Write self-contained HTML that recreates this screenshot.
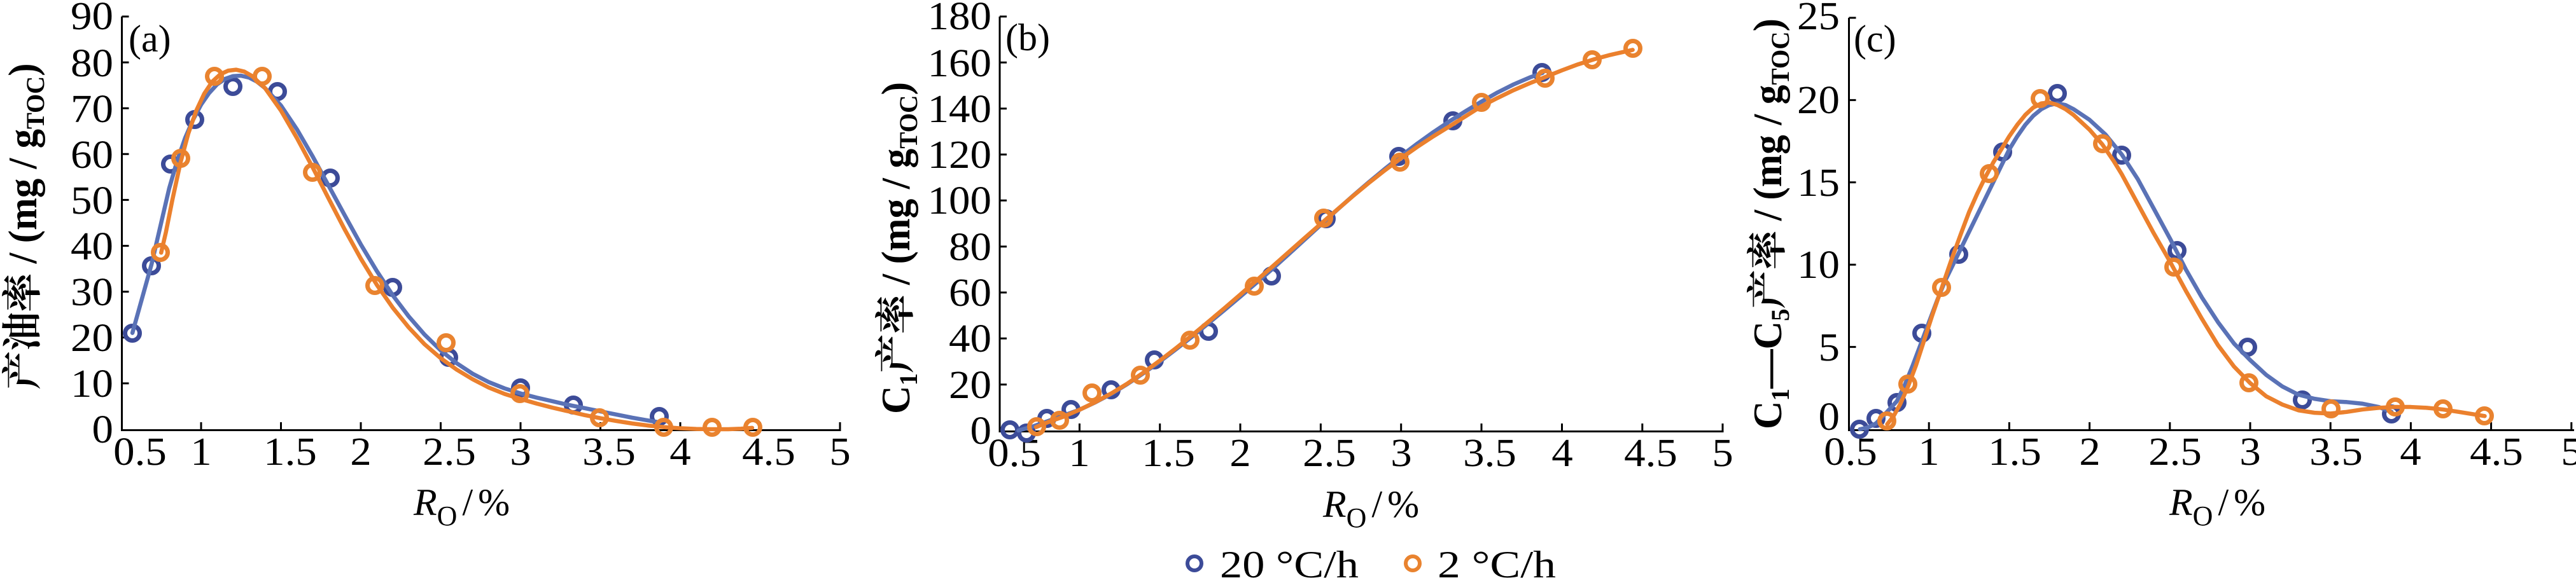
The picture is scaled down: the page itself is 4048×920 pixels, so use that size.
<!DOCTYPE html>
<html><head><meta charset="utf-8"><style>
html,body{margin:0;padding:0;background:#fff;width:4048px;height:920px;overflow:hidden}
svg{display:block}
.t{font-family:"Liberation Serif","Noto Serif CJK SC",serif;fill:#000}
.cjk{font-family:"Noto Serif CJK SC","Liberation Serif",serif}
</style></head><body>
<svg width="4048" height="920" viewBox="0 0 4048 920" xmlns="http://www.w3.org/2000/svg">
<rect width="4048" height="920" fill="#fff"/>

<!-- ================= PANEL A ================= -->
<g stroke="#000" stroke-width="3" fill="none">
<path d="M191.5 26 V676.5 H1321.5"/>
<path d="M191.5 26 h11 M191.5 98.1 h11 M191.5 170.2 h11 M191.5 242.3 h11 M191.5 314.4 h11 M191.5 386.6 h11 M191.5 458.7 h11 M191.5 530.8 h11 M191.5 602.9 h11"/>
<path d="M316 675 v-11 M441.5 675 v-11 M567 675 v-11 M692.5 675 v-11 M818 675 v-11 M943.5 675 v-11 M1069 675 v-11 M1194.5 675 v-11 M1320 675 v-11"/>
</g>
<g class="t" font-size="62" text-anchor="end">
<text transform="translate(178,696) scale(1.08,1)">0</text>
<text transform="translate(178,624) scale(1.08,1)">10</text>
<text transform="translate(178,552) scale(1.08,1)">20</text>
<text transform="translate(178,480) scale(1.08,1)">30</text>
<text transform="translate(178,408) scale(1.08,1)">40</text>
<text transform="translate(178,336) scale(1.08,1)">50</text>
<text transform="translate(178,264) scale(1.08,1)">60</text>
<text transform="translate(178,192) scale(1.08,1)">70</text>
<text transform="translate(178,120) scale(1.08,1)">80</text>
<text transform="translate(178,46) scale(1.08,1)">90</text>
</g>
<g class="t" font-size="62" text-anchor="middle">
<text transform="translate(220,731) scale(1.08,1)">0.5</text>
<text transform="translate(316,731) scale(1.08,1)">1</text>
<text transform="translate(456,731) scale(1.08,1)">1.5</text>
<text transform="translate(567,731) scale(1.08,1)">2</text>
<text transform="translate(706,731) scale(1.08,1)">2.5</text>
<text transform="translate(818,731) scale(1.08,1)">3</text>
<text transform="translate(957,731) scale(1.08,1)">3.5</text>
<text transform="translate(1069,731) scale(1.08,1)">4</text>
<text transform="translate(1208,731) scale(1.08,1)">4.5</text>
<text transform="translate(1320,731) scale(1.08,1)">5</text>
</g>
<text class="t" x="202" y="81" font-size="60">(a)</text>
<text class="t" x="650" y="810" font-size="60"><tspan font-style="italic">R</tspan><tspan font-size="44" dy="16">O</tspan><tspan dy="-16" dx="8">/</tspan><tspan dx="8">%</tspan></text>
<text class="t" transform="translate(57,356) rotate(-90)" text-anchor="middle" font-size="63" font-weight="bold" textLength="513" lengthAdjust="spacingAndGlyphs"><tspan class="cjk">产油率</tspan> / (mg / g<tspan font-size="40" dy="12">TOC</tspan><tspan dy="-12">)</tspan></text>

<!-- markers a blue -->
<g fill="none" stroke="#3c4b98" stroke-width="7">
<circle cx="208" cy="524" r="11.5"/><circle cx="238" cy="418" r="11.5"/><circle cx="268" cy="258" r="11.5"/><circle cx="306" cy="188" r="11.5"/><circle cx="366" cy="136" r="11.5"/><circle cx="436" cy="144" r="11.5"/><circle cx="519" cy="280" r="11.5"/><circle cx="617" cy="452" r="11.5"/><circle cx="705" cy="562" r="11.5"/><circle cx="818" cy="610" r="11.5"/><circle cx="901" cy="637" r="11.5"/><circle cx="1036" cy="655" r="11.5"/>
</g>
<g transform="translate(190.5,675) scale(251,-7.211) translate(-0.5,0)">
<polyline vector-effect="non-scaling-stroke" fill="none" stroke="#5a72b6" stroke-width="6.5" stroke-linejoin="round" stroke-linecap="round" points="0.57,21 0.63,28.5 0.69,36 0.75,45 0.8,52.5 0.85,58.5 0.9,63.5 0.95,67.5 1,70.8 1.05,73.3 1.1,75.2 1.15,76.4 1.2,77 1.25,77.1 1.3,76.7 1.35,75.8 1.4,74.4 1.5,70.6 1.6,65.4 1.7,59.4 1.8,53 1.9,46.6 2,40.3 2.1,34.5 2.2,29.2 2.3,24.6 2.4,20.6 2.5,17.2 2.6,14.4 2.7,12.1 2.8,10.3 2.9,8.9 3,7.8 3.1,6.9 3.2,6.1 3.3,5.3 3.4,4.6 3.5,3.9 3.6,3.2 3.7,2.5 3.8,1.9 3.87,1.5"/>
</g>
<g fill="none" stroke="#e9832f" stroke-width="7">
<circle cx="252" cy="397" r="11.5"/><circle cx="284" cy="249" r="11.5"/><circle cx="337" cy="120" r="11.5"/><circle cx="412" cy="120" r="11.5"/><circle cx="491" cy="271" r="11.5"/><circle cx="589" cy="449" r="11.5"/><circle cx="701" cy="539" r="11.5"/><circle cx="817" cy="619" r="11.5"/><circle cx="942" cy="657" r="11.5"/><circle cx="1043" cy="672" r="11.5"/><circle cx="1119" cy="672" r="11.5"/><circle cx="1183" cy="672" r="11.5"/>
</g>
<g transform="translate(190.5,675) scale(251,-7.211) translate(-0.5,0)">
<polyline vector-effect="non-scaling-stroke" fill="none" stroke="#eb802d" stroke-width="6.5" stroke-linejoin="round" stroke-linecap="round" points="0.75,38.5 0.78,43 0.82,50 0.87,58 0.92,64.5 0.97,69.5 1.02,73.2 1.07,75.8 1.12,77.4 1.17,78.2 1.22,78.4 1.27,78 1.32,77 1.4,74.4 1.5,69.5 1.6,63.5 1.7,57 1.8,50.2 1.9,43.5 2,37.2 2.1,31.5 2.2,26.5 2.3,22.2 2.4,18.5 2.5,15.5 2.6,13 2.7,10.9 2.8,9.1 2.9,7.7 3,6.6 3.1,5.6 3.2,4.7 3.3,3.9 3.4,3.1 3.5,2.4 3.6,1.8 3.7,1.25 3.8,0.8 3.9,0.45 4,0.2 4.1,0.05 4.2,0 4.3,0 4.38,0.1 4.45,0.3"/>
</g>

<!-- ================= PANEL B ================= -->
<g stroke="#000" stroke-width="3" fill="none">
<path d="M1571 26 V678.5 H2708.5"/>
<path d="M1571 26 h11 M1571 98.3 h11 M1571 170.7 h11 M1571 243 h11 M1571 315.3 h11 M1571 387.7 h11 M1571 460 h11 M1571 532.3 h11 M1571 604.7 h11"/>
<path d="M1696.4 677 v-11 M1822.7 677 v-11 M1949 677 v-11 M2075.4 677 v-11 M2201.7 677 v-11 M2328 677 v-11 M2454.5 677 v-11 M2580.8 677 v-11 M2707 677 v-11"/>
</g>
<g class="t" font-size="62" text-anchor="end">
<text transform="translate(1558,698) scale(1.08,1)">0</text>
<text transform="translate(1558,626) scale(1.08,1)">20</text>
<text transform="translate(1558,553) scale(1.08,1)">40</text>
<text transform="translate(1558,481) scale(1.08,1)">60</text>
<text transform="translate(1558,409) scale(1.08,1)">80</text>
<text transform="translate(1558,336) scale(1.08,1)">100</text>
<text transform="translate(1558,264) scale(1.08,1)">120</text>
<text transform="translate(1558,192) scale(1.08,1)">140</text>
<text transform="translate(1558,120) scale(1.08,1)">160</text>
<text transform="translate(1558,46) scale(1.08,1)">180</text>
</g>
<g class="t" font-size="62" text-anchor="middle">
<text transform="translate(1594,733) scale(1.08,1)">0.5</text>
<text transform="translate(1696,733) scale(1.08,1)">1</text>
<text transform="translate(1836,733) scale(1.08,1)">1.5</text>
<text transform="translate(1949,733) scale(1.08,1)">2</text>
<text transform="translate(2089,733) scale(1.08,1)">2.5</text>
<text transform="translate(2202,733) scale(1.08,1)">3</text>
<text transform="translate(2341,733) scale(1.08,1)">3.5</text>
<text transform="translate(2455,733) scale(1.08,1)">4</text>
<text transform="translate(2594,733) scale(1.08,1)">4.5</text>
<text transform="translate(2707,733) scale(1.08,1)">5</text>
</g>
<text class="t" x="1580" y="79" font-size="60">(b)</text>
<text class="t" x="2079" y="813" font-size="60"><tspan font-style="italic">R</tspan><tspan font-size="44" dy="16">O</tspan><tspan dy="-16" dx="8">/</tspan><tspan dx="8">%</tspan></text>
<text class="t" transform="translate(1429,390) rotate(-90)" text-anchor="middle" font-size="63" font-weight="bold" textLength="522" lengthAdjust="spacingAndGlyphs">C<tspan font-size="40" dy="12">1</tspan><tspan class="cjk" dy="-12">产率</tspan> / (mg / g<tspan font-size="40" dy="12">TOC</tspan><tspan dy="-12">)</tspan></text>

<g fill="none" stroke="#3c4b98" stroke-width="7">
<circle cx="1587" cy="676" r="11.5"/><circle cx="1613" cy="681" r="11.5"/><circle cx="1645" cy="658" r="11.5"/><circle cx="1683" cy="644" r="11.5"/><circle cx="1746" cy="613" r="11.5"/><circle cx="1814" cy="566" r="11.5"/><circle cx="1899" cy="521" r="11.5"/><circle cx="1998" cy="434" r="11.5"/><circle cx="2084" cy="344" r="11.5"/><circle cx="2198" cy="246" r="11.5"/><circle cx="2283" cy="190" r="11.5"/><circle cx="2423" cy="114" r="11.5"/>
</g>
<g transform="translate(1570,677) scale(252.7,-3.6167) translate(-0.5,0)">
<polyline vector-effect="non-scaling-stroke" fill="none" stroke="#5a72b6" stroke-width="6.5" stroke-linejoin="round" stroke-linecap="round" points="0.62,0 0.7,1.5 0.8,4 0.9,6.5 1,9 1.1,12.3 1.2,16 1.3,20.3 1.4,25 1.5,30 1.6,35.3 1.7,40.8 1.8,46.5 1.9,52.3 2,58.2 2.1,64.2 2.2,70.3 2.3,76.6 2.4,83 2.5,89.4 2.6,95.8 2.7,102 2.8,108 2.9,113.8 3,119.4 3.1,124.7 3.2,129.7 3.3,134.4 3.4,138.8 3.5,143 3.6,147 3.7,150.5 3.8,153.5 3.88,155.5"/>
</g>
<g fill="none" stroke="#e9832f" stroke-width="7">
<circle cx="1629" cy="671" r="11.5"/><circle cx="1665" cy="661" r="11.5"/><circle cx="1716" cy="618" r="11.5"/><circle cx="1792" cy="590" r="11.5"/><circle cx="1870" cy="535" r="11.5"/><circle cx="1971" cy="450" r="11.5"/><circle cx="2080" cy="343" r="11.5"/><circle cx="2200" cy="255" r="11.5"/><circle cx="2328" cy="161" r="11.5"/><circle cx="2428" cy="123" r="11.5"/><circle cx="2502" cy="94" r="11.5"/><circle cx="2566" cy="76" r="11.5"/>
</g>
<g transform="translate(1570,677) scale(252.7,-3.6167) translate(-0.5,0)">
<polyline vector-effect="non-scaling-stroke" fill="none" stroke="#eb802d" stroke-width="6.5" stroke-linejoin="round" stroke-linecap="round" points="0.73,1.5 0.8,3.5 0.9,6 1,9 1.1,12.4 1.2,16.2 1.3,20.5 1.4,25.3 1.5,30.4 1.6,35.8 1.7,41.4 1.8,47.2 1.9,53.1 2,59.1 2.1,65.2 2.2,71.3 2.3,77.5 2.4,83.7 2.5,89.8 2.6,95.9 2.7,101.9 2.8,107.7 2.9,113.2 3,118.4 3.1,123.3 3.2,127.9 3.3,132.2 3.4,136.6 3.5,141 3.6,144.6 3.7,148 3.8,151 3.9,153.8 4,156.6 4.1,159.2 4.2,161.4 4.3,163.3 4.44,165.5"/>
</g>

<!-- ================= PANEL C ================= -->
<g stroke="#000" stroke-width="3" fill="none">
<path d="M2905.5 28 V676.5 H4045"/>
<path d="M2905.5 28 h11 M2905.5 157.4 h11 M2905.5 286.8 h11 M2905.5 416.2 h11 M2905.5 545.6 h11"/>
<path d="M3031.2 675 v-11 M3157.4 675 v-11 M3283.6 675 v-11 M3409.8 675 v-11 M3536 675 v-11 M3662.2 675 v-11 M3788.4 675 v-11 M3914.6 675 v-11 M4040.8 675 v-11"/>
</g>
<g class="t" font-size="62" text-anchor="end">
<text transform="translate(2891,676) scale(1.08,1)">0</text>
<text transform="translate(2891,567) scale(1.08,1)">5</text>
<text transform="translate(2891,437) scale(1.08,1)">10</text>
<text transform="translate(2891,308) scale(1.08,1)">15</text>
<text transform="translate(2891,178) scale(1.08,1)">20</text>
<text transform="translate(2891,46) scale(1.08,1)">25</text>
</g>
<g class="t" font-size="62" text-anchor="middle">
<text transform="translate(2908,731) scale(1.08,1)">0.5</text>
<text transform="translate(3031,731) scale(1.08,1)">1</text>
<text transform="translate(3166,731) scale(1.08,1)">1.5</text>
<text transform="translate(3284,731) scale(1.08,1)">2</text>
<text transform="translate(3418,731) scale(1.08,1)">2.5</text>
<text transform="translate(3536,731) scale(1.08,1)">3</text>
<text transform="translate(3671,731) scale(1.08,1)">3.5</text>
<text transform="translate(3788,731) scale(1.08,1)">4</text>
<text transform="translate(3923,731) scale(1.08,1)">4.5</text>
<text transform="translate(4041,731) scale(1.08,1)">5</text>
</g>
<text class="t" x="2913" y="81" font-size="60">(c)</text>
<text class="t" x="3409" y="810" font-size="60"><tspan font-style="italic">R</tspan><tspan font-size="44" dy="16">O</tspan><tspan dy="-16" dx="8">/</tspan><tspan dx="8">%</tspan></text>
<text class="t" transform="translate(2799,352) rotate(-90)" text-anchor="middle" font-size="63" font-weight="bold" textLength="646" lengthAdjust="spacingAndGlyphs">C<tspan font-size="40" dy="12">1</tspan><tspan dy="-12">—C</tspan><tspan font-size="40" dy="12">5</tspan><tspan class="cjk" dy="-12">产率</tspan> / (mg / g<tspan font-size="40" dy="12">TOC</tspan><tspan dy="-12">)</tspan></text>

<g fill="none" stroke="#3c4b98" stroke-width="7">
<circle cx="2922" cy="675" r="11.5"/><circle cx="2948" cy="658" r="11.5"/><circle cx="2981" cy="633" r="11.5"/><circle cx="3020" cy="524" r="11.5"/><circle cx="3078" cy="400" r="11.5"/><circle cx="3147" cy="239" r="11.5"/><circle cx="3233" cy="147" r="11.5"/><circle cx="3334" cy="244" r="11.5"/><circle cx="3421" cy="394" r="11.5"/><circle cx="3532" cy="546" r="11.5"/><circle cx="3618" cy="629" r="11.5"/><circle cx="3758" cy="651" r="11.5"/>
</g>
<g transform="translate(2905,675) scale(252.4,-25.88) translate(-0.5,0)">
<polyline vector-effect="non-scaling-stroke" fill="none" stroke="#5a72b6" stroke-width="6.5" stroke-linejoin="round" stroke-linecap="round" points="0.57,0 0.62,0.1 0.67,0.35 0.72,0.85 0.8,1.7 0.85,2.7 0.9,3.9 0.95,5.2 1,6.5 1.05,7.8 1.1,9 1.15,10 1.2,11 1.25,12 1.3,13 1.35,14 1.4,15 1.45,16 1.5,17 1.55,17.8 1.6,18.5 1.65,19.05 1.7,19.45 1.75,19.7 1.8,19.8 1.85,19.7 1.9,19.45 2,18.8 2.1,17.9 2.2,16.7 2.3,15.2 2.4,13.4 2.5,11.6 2.6,9.7 2.7,8 2.8,6.5 2.9,5.2 3,4.2 3.1,3.3 3.2,2.6 3.3,2.1 3.4,1.85 3.5,1.7 3.6,1.65 3.7,1.55 3.8,1.35 3.88,1.05"/>
</g>
<g fill="none" stroke="#e9832f" stroke-width="7">
<circle cx="2965" cy="662" r="11.5"/><circle cx="2998" cy="604" r="11.5"/><circle cx="3051" cy="452" r="11.5"/><circle cx="3126" cy="273" r="11.5"/><circle cx="3206" cy="155" r="11.5"/><circle cx="3304" cy="226" r="11.5"/><circle cx="3416" cy="420" r="11.5"/><circle cx="3534" cy="602" r="11.5"/><circle cx="3663" cy="643" r="11.5"/><circle cx="3764" cy="640" r="11.5"/><circle cx="3839" cy="643" r="11.5"/><circle cx="3904" cy="654" r="11.5"/>
</g>
<g transform="translate(2905,675) scale(252.4,-25.88) translate(-0.5,0)">
<polyline vector-effect="non-scaling-stroke" fill="none" stroke="#eb802d" stroke-width="6.5" stroke-linejoin="round" stroke-linecap="round" points="0.74,0.3 0.78,0.8 0.82,1.5 0.87,2.6 0.92,3.9 0.97,5.4 1.02,6.9 1.08,8.6 1.14,10.3 1.2,11.9 1.25,13.2 1.3,14.3 1.35,15.3 1.4,16.2 1.45,17 1.5,17.8 1.55,18.5 1.6,19.1 1.65,19.55 1.7,19.8 1.75,19.85 1.8,19.7 1.85,19.45 1.9,19.1 2,18.2 2.08,17.3 2.15,16.3 2.2,15.5 2.3,13.7 2.4,11.9 2.5,10.2 2.6,8.4 2.7,6.7 2.8,5.1 2.9,3.8 3,2.8 3.1,2 3.2,1.5 3.3,1.15 3.4,1 3.5,0.95 3.6,1.05 3.7,1.2 3.8,1.3 3.9,1.35 4,1.35 4.1,1.3 4.2,1.2 4.3,1.05 4.46,0.8"/>
</g>

<!-- ================= LEGEND ================= -->
<circle cx="1877" cy="886" r="11" fill="none" stroke="#3c4b98" stroke-width="6"/>
<text class="t" x="1917" y="908" font-size="60" textLength="218" lengthAdjust="spacingAndGlyphs">20 °C/h</text>
<circle cx="2220" cy="886" r="11" fill="none" stroke="#e9832f" stroke-width="6"/>
<text class="t" x="2259" y="908" font-size="60" textLength="186" lengthAdjust="spacingAndGlyphs">2 °C/h</text>
</svg>
</body></html>
